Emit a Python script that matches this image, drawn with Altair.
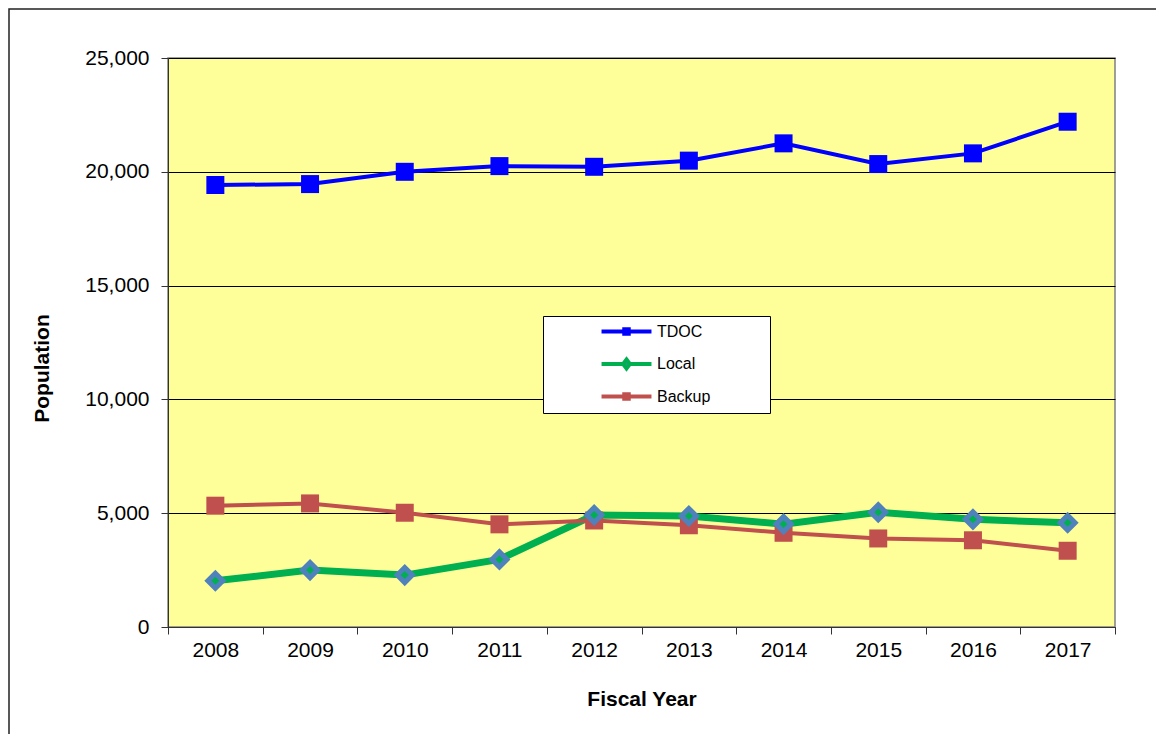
import altair as alt
import pandas as pd

years = ["2008", "2009", "2010", "2011", "2012", "2013", "2014", "2015", "2016", "2017"]
series_names = ["TDOC", "Local", "Backup"]
tdoc = [19420, 19460, 20000, 20250, 20220, 20490, 21250, 20340, 20810, 22200]
local = [2030, 2500, 2280, 2970, 4920, 4880, 4520, 5040, 4730, 4580]
backup = [5330, 5430, 5020, 4510, 4680, 4470, 4140, 3890, 3810, 3350]

line_colors = ["#0000FF", "#00B050", "#C0504D"]
fill_colors = ["#0000FF", "#4F81BD", "#C0504D"]
line_widths = [4, 7, 4]

rows = []
for name, vals in zip(series_names, [tdoc, local, backup]):
    for y, v in zip(years, vals):
        rows.append({"year": y, "series": name, "value": v})
df = pd.DataFrame(rows)

FONT = "Liberation Sans"

# legend symbols: a short line with a marker in the middle (unit box scaled by sqrt(size)/2);
# the leading move-to only widens the legend box to the reference's width
sq_path = "M17.2,0M-3.33,0H3.33M-0.3,-0.3H0.3V0.3H-0.3Z"
dm_path = "M17.2,0M-3.33,0H-0.45M0.45,0H3.33M0,-0.6L0.45,0L0,0.6L-0.45,0Z"

legend = alt.Legend(title=None, orient="none", legendX=375, legendY=258)

x_enc = alt.X(
    "year:O",
    scale=alt.Scale(type="band", domain=years, paddingInner=0, paddingOuter=0),
    axis=alt.Axis(
        title="Fiscal Year", labelAngle=0, tickBand="extent", tickSize=7,
        labelPadding=5, labelFontSize=21, labelFont=FONT, labelColor="#000",
        titleFont=FONT, titleFontSize=21, titleFontWeight="bold", titleColor="#000",
        titleY=78, titleBaseline="alphabetic",
        domainColor="#333", tickColor="#333", grid=False,
    ),
)
y_enc = alt.Y(
    "value:Q",
    scale=alt.Scale(domain=[0, 25000], nice=False),
    axis=alt.Axis(
        title="Population", values=[0, 5000, 10000, 15000, 20000, 25000], format=",.0f",
        tickSize=7, labelPadding=12, labelFontSize=21, labelFont=FONT, labelColor="#000",
        titleFont=FONT, titleFontSize=21, titleFontWeight="bold", titleColor="#000",
        titleAngle=270, titleX=-120, titleY=310, titleAlign="center",
        titleBaseline="alphabetic",
        grid=True, gridColor="#000", gridWidth=1,
        domainColor="#333", tickColor="#333",
    ),
)

stroke_scale = alt.Scale(domain=series_names, range=line_colors)
fill_scale = alt.Scale(domain=series_names, range=fill_colors)

base = alt.Chart(df)

legend_layer = base.transform_filter("false").mark_point(
    filled=True, opacity=1, strokeWidth=4
).encode(
    x=x_enc, y=y_enc,
    stroke=alt.Stroke("series:N", scale=stroke_scale, legend=legend),
    fill=alt.Fill("series:N", scale=fill_scale, legend=legend),
    shape=alt.Shape("series:N", scale=alt.Scale(domain=series_names, range=[sq_path, dm_path, sq_path]), legend=legend),
)

line_layers = []
for name, w in zip(series_names, line_widths):
    line_layers.append(
        base.transform_filter(alt.datum.series == name).mark_line(strokeWidth=w).encode(
            x=x_enc, y=y_enc,
            stroke=alt.Stroke("series:N", scale=stroke_scale, legend=legend),
        )
    )

squares = base.transform_filter("datum.series != 'Local'").mark_point(
    shape="square", filled=True, size=324, opacity=1, strokeWidth=0
).encode(
    x=x_enc, y=y_enc,
    fill=alt.Fill("series:N", scale=fill_scale, legend=legend),
)

diamonds = base.transform_filter("datum.series == 'Local'").mark_point(
    shape="diamond", filled=True, size=225, opacity=1,
    fill="#00B050", stroke="#4F81BD", strokeWidth=5,
).encode(x=x_enc, y=y_enc)

frame = alt.Chart(pd.DataFrame({"a": [0]})).mark_rect(
    fill=None, stroke="#222", strokeWidth=1.5, clip=False
).encode(
    x=alt.value(-159), x2=alt.value(1200), y=alt.value(-49), y2=alt.value(760)
)

chart = alt.layer(legend_layer, line_layers[1], line_layers[2], line_layers[0], squares, diamonds, frame).properties(
    width=947, height=569,
    autosize=alt.AutoSizeParams(type="none"),
    padding={"left": 160, "top": 50, "right": 41, "bottom": 107},
    background="white",
).configure_view(
    fill="#FFFF99", stroke="#808080", strokeWidth=1.5
).configure_legend(
    symbolSize=225, symbolStrokeWidth=4, symbolOffset=68, labelFontSize=16, labelFont=FONT,
    labelColor="#000", labelOffset=21, labelLimit=205, rowPadding=9.5, padding=6,
    fillColor="white", strokeColor="#000", cornerRadius=0,
)

chart.save("out.html", embed_options={"renderer": "svg", "actions": False})
